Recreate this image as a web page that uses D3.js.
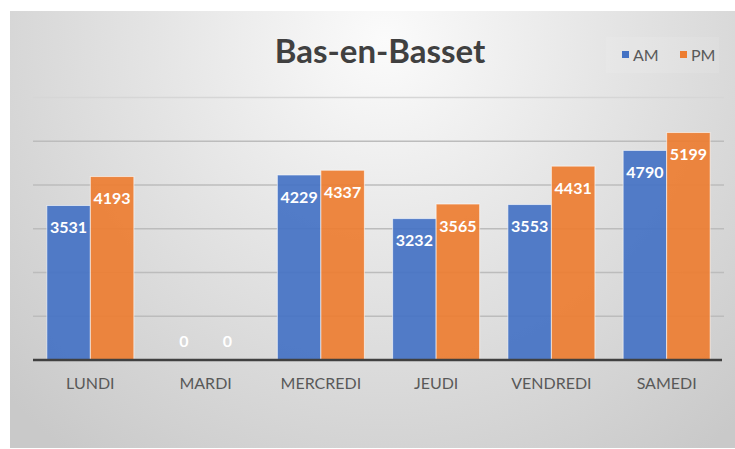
<!DOCTYPE html>
<html>
<head>
<meta charset="utf-8">
<script src="https://cdn.jsdelivr.net/npm/d3@7"></script>
<style>
  html, body { margin: 0; padding: 0; background: #fff; }
  svg { display: block; }
</style>
</head>
<body>
<div id="chart"></div>
<script>
// Data
const days = ['LUNDI', 'MARDI', 'MERCREDI', 'JEUDI', 'VENDREDI', 'SAMEDI'];
const amValues = [3531, 0, 4229, 3232, 3553, 4790];
const pmValues = [4193, 0, 4337, 3565, 4431, 5199];
const seriesNames = ['AM', 'PM'];
const yTicks = [0, 1000, 2000, 3000, 4000, 5000, 6000];

// Colors
const blueColor = '#4472c4';
const orangeColor = '#ed7d31';
const textColor = '#595959';
const titleColor = '#404040';
const gridColor = '#bcbcbc';
const fontFamily = 'Lato, "Open Sans", sans-serif';

const W = 735, H = 449;
const margin = { top: 97.5, right: 11, bottom: 89, left: 33 };
const width = W - margin.left - margin.right;
const height = H - margin.top - margin.bottom;

const svg = d3.select('#chart').append('svg')
    .attr('width', W)
    .attr('height', H);

// background gradient
const defs = svg.append('defs');
const grad = defs.append('radialGradient')
    .attr('id', 'bg')
    .attr('gradientUnits', 'userSpaceOnUse')
    .attr('cx', 385).attr('cy', 40).attr('r', 520);
grad.append('stop').attr('offset', '0%').attr('stop-color', '#fbfbfb');
grad.append('stop').attr('offset', '45%').attr('stop-color', '#e4e4e4');
grad.append('stop').attr('offset', '100%').attr('stop-color', '#c9c9c9');

svg.append('rect')
    .attr('x', 10).attr('y', 11)
    .attr('width', W - 10).attr('height', 437)
    .attr('fill', 'url(#bg)');

const g = svg.append('g')
    .attr('transform', `translate(${margin.left},${margin.top})`);

const x0 = d3.scaleBand()
    .domain(days)
    .range([0, width])
    .paddingInner(0.245)
    .paddingOuter(0.12);

const x1 = d3.scaleBand()
    .domain(seriesNames)
    .range([0, x0.bandwidth()]);

const y = d3.scaleLinear()
    .domain([0, 6000])
    .range([height, 0]);

// gridlines
g.append('g')
    .selectAll('line')
    .data(yTicks.slice(1))
    .enter()
    .append('line')
    .attr('x1', 0).attr('x2', width)
    .attr('y1', d => y(d)).attr('y2', d => y(d))
    .attr('stroke', d => d === 6000 ? '#d6d6d6' : gridColor)
    .attr('stroke-width', 1.5);

const rows = days.map((d, i) => ({ day: d, values: [
    { key: 'AM', value: amValues[i], color: blueColor },
    { key: 'PM', value: pmValues[i], color: orangeColor }
] }));

const groups = g.selectAll('.day')
    .data(rows)
    .enter()
    .append('g')
    .attr('class', 'day')
    .attr('transform', d => `translate(${x0(d.day)},0)`);

groups.selectAll('rect')
    .data(d => d.values)
    .enter()
    .append('rect')
    .attr('x', d => x1(d.key))
    .attr('y', d => y(d.value))
    .attr('width', x1.bandwidth())
    .attr('height', d => height - y(d.value))
    .attr('fill', d => d.color)
    .attr('fill-opacity', 0.92)
    .attr('stroke', '#ffffff')
    .attr('stroke-opacity', d => d.value > 0 ? 0.6 : 0)
    .attr('stroke-width', 1);

// data labels
groups.selectAll('.lbl')
    .data(d => d.values)
    .enter()
    .append('text')
    .attr('class', 'lbl')
    .attr('x', d => x1(d.key) + x1.bandwidth() / 2)
    .attr('y', d => Math.min(y(d.value) + 22, y(0) - 19))
    .attr('dy', '0.35em')
    .attr('text-anchor', 'middle')
    .attr('font-family', fontFamily)
    .attr('font-weight', 'bold')
    .attr('font-size', '16px')
    .attr('fill', '#ffffff')
    .text(d => d.value);

// baseline
g.append('line')
    .attr('x1', 0).attr('x2', width - 2)
    .attr('y1', y(0)).attr('y2', y(0))
    .attr('stroke', '#404040')
    .attr('stroke-width', 2.5);

// category axis
const xAxis = g.append('g')
    .attr('transform', `translate(0,${height})`)
    .call(d3.axisBottom(x0).tickSize(0).tickPadding(18));
xAxis.select('.domain').remove();
xAxis.selectAll('text')
    .attr('font-family', fontFamily)
    .attr('font-size', '16px')
    .attr('fill', textColor);

// title
svg.append('text')
    .attr('x', 380)
    .attr('y', 63)
    .attr('text-anchor', 'middle')
    .attr('font-family', fontFamily)
    .attr('font-weight', 'bold')
    .attr('font-size', '33px')
    .attr('fill', titleColor)
    .text('Bas-en-Basset');

// legend
svg.append('rect')
    .attr('x', 606).attr('y', 37)
    .attr('width', 113).attr('height', 36)
    .attr('fill', '#ffffff')
    .attr('fill-opacity', 0.1);

const legend = svg.append('g').attr('transform', 'translate(622,55)');
const legendColors = [blueColor, orangeColor];
const legendX = [0, 58];
seriesNames.forEach((name, i) => {
    legend.append('rect')
        .attr('x', legendX[i]).attr('y', -4)
        .attr('width', 7).attr('height', 7)
        .attr('fill', legendColors[i]);
    legend.append('text')
        .attr('x', legendX[i] + 11).attr('y', 0)
        .attr('dy', '0.35em')
        .attr('font-family', fontFamily)
        .attr('font-size', '16px')
        .attr('fill', textColor)
        .text(name);
});
</script>
</body>
</html>
